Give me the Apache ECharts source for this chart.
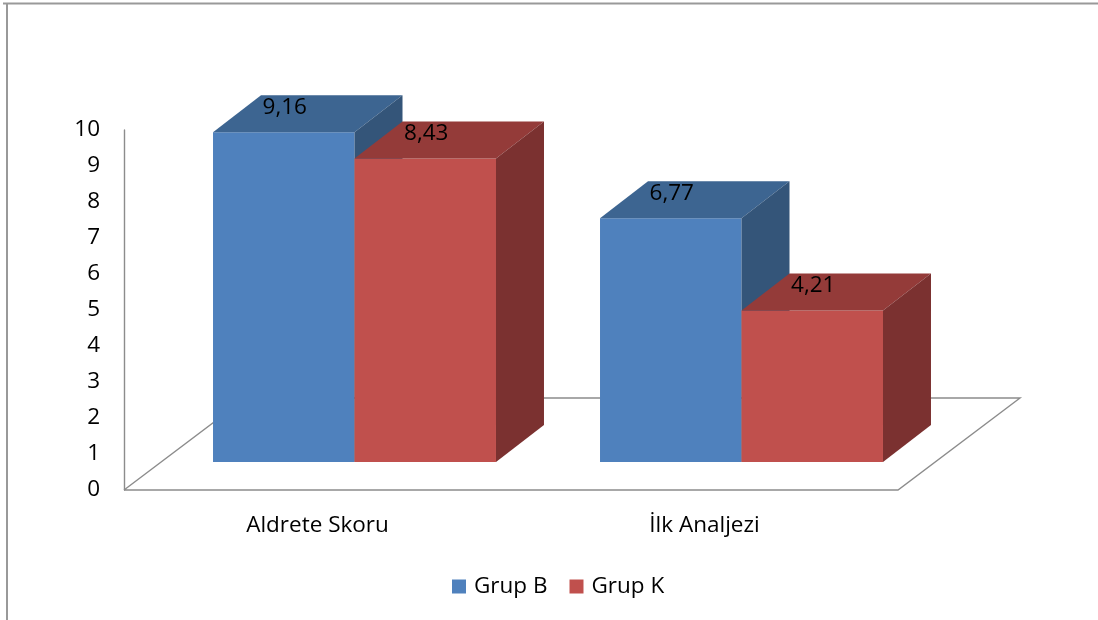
<!DOCTYPE html>
<html>
<head>
<meta charset="utf-8">
<script src="https://cdn.jsdelivr.net/npm/echarts@6/dist/echarts.min.js"></script>
<style>
  html, body { margin: 0; padding: 0; background: #fff; }
  #chart { width: 1098px; height: 620px; }
</style>
</head>
<body>
<div id="chart"></div>
<script>
// Chart data
const categories = ['Aldrete Skoru', 'İlk Analjezi'];
const grupB = [9.16, 6.77];
const grupK = [8.43, 4.21];
const seriesNames = ['Grup B', 'Grup K'];
const yMin = 0, yMax = 10, yStep = 1;

// Look of the 3D boxes
const FONT = 'Open Sans';
const FS = 22.5;
const BAR_FRAC = 0.3656;          // one bar width as a share of the category band
const FRONT = [37, -28];          // shift from the axis plane to the bar front face
const DEPTH = [48, -37];          // box depth
const FLOOR = [122, -92];         // floor depth
const palettes = {
  b: { front: '#4F81BD', top: '#3D6591', side: '#345579' },
  k: { front: '#C0504D', top: '#943B39', side: '#7B3130' }
};

const fmt = v => String(v).replace('.', ',');

function boxRenderer(side, pal) {
  return function (params, api) {
    const cat = api.value(0);
    const val = api.value(1);
    const base = api.coord([cat, 0]);
    const top = api.coord([cat, val]);
    const band = api.size([1, 0])[0];
    const w = band * BAR_FRAC;
    const x0 = base[0] + (side < 0 ? -w : 0) + FRONT[0];
    const x1 = x0 + w;
    const yT = top[1] + FRONT[1];
    const yB = base[1] + FRONT[1];
    const dx = DEPTH[0], dy = DEPTH[1];
    return {
      type: 'group',
      children: [
        { type: 'rect', shape: { x: x0, y: yT, width: w, height: yB - yT },
          style: { fill: pal.front } },
        { type: 'polygon', shape: { points: [[x0, yT], [x1, yT], [x1 + dx, yT + dy], [x0 + dx, yT + dy]] },
          style: { fill: pal.top } },
        { type: 'polygon', shape: { points: [[x1, yT], [x1 + dx, yT + dy], [x1 + dx, yB + dy], [x1, yB]] },
          style: { fill: pal.side } },
        { type: 'text', z2: 10,
          style: { text: fmt(val), x: (x0 + x1) / 2 + 1, y: yT - 25, align: 'center', verticalAlign: 'middle',
                   fill: '#000', font: FS + 'px "' + FONT + '"' } }
      ]
    };
  };
}

function floorRenderer(params, api) {
  const cs = params.coordSys;
  const L = cs.x, R = cs.x + cs.width, B = cs.y + cs.height;
  return {
    type: 'polyline',
    shape: { points: [[L, B], [R, B], [R + FLOOR[0], B + FLOOR[1]], [L + FLOOR[0], B + FLOOR[1]], [L, B]] },
    style: { stroke: '#8C8C8C', lineWidth: 1.4, fill: null }
  };
}

const chart = echarts.init(document.getElementById('chart'), null, { renderer: 'canvas' });
chart.setOption({
  animation: false,
  backgroundColor: '#fff',
  textStyle: { fontFamily: FONT },
  grid: { left: 124, top: 130, width: 774, height: 360 },
  legend: {
    data: seriesNames,
    left: 447, top: 570,
    icon: 'rect', itemWidth: 14, itemHeight: 14, itemGap: 22,
    textStyle: { fontFamily: FONT, fontSize: FS, color: '#000', padding: [0, 0, 0, 3] }
  },
  xAxis: {
    type: 'category',
    data: categories,
    axisLine: { show: false },
    axisTick: { show: false },
    axisLabel: { margin: 24, fontSize: FS, color: '#000', fontFamily: FONT }
  },
  yAxis: {
    type: 'value',
    min: yMin, max: yMax, interval: yStep,
    axisLine: { show: true, lineStyle: { color: '#8C8C8C', width: 1.4 } },
    axisTick: { show: false },
    splitLine: { show: false },
    axisLabel: { margin: 24, fontSize: FS, color: '#000', fontFamily: FONT, padding: [3, 0, 0, 0] }
  },
  graphic: [
    { type: 'line', shape: { x1: 3, y1: 3.5, x2: 1098, y2: 3.5 }, style: { stroke: '#999', lineWidth: 2 } },
    { type: 'line', shape: { x1: 7, y1: 3, x2: 7, y2: 620 }, style: { stroke: '#999', lineWidth: 2 } }
  ],
  series: [
    { type: 'custom', name: 'floor', z: 1, silent: true, renderItem: floorRenderer, data: [[0, 0]] },
    { type: 'custom', name: seriesNames[0], z: 2, itemStyle: { color: palettes.b.front },
      renderItem: boxRenderer(-1, palettes.b), encode: { x: 0, y: 1 },
      data: categories.map((c, i) => [i, grupB[i]]) },
    { type: 'custom', name: seriesNames[1], z: 2, itemStyle: { color: palettes.k.front },
      renderItem: boxRenderer(1, palettes.k), encode: { x: 0, y: 1 },
      data: categories.map((c, i) => [i, grupK[i]]) }
  ]
});
</script>
</body>
</html>
